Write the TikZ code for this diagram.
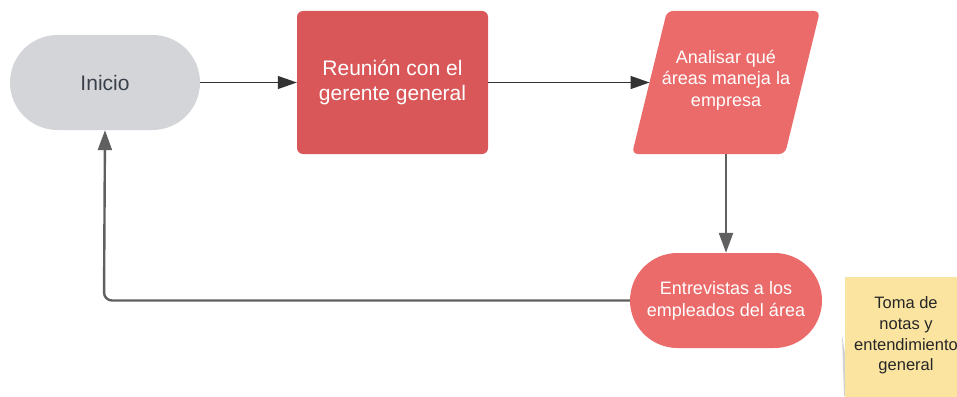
\documentclass[tikz,border=0pt]{standalone}
\usepackage{fontspec}
\setmainfont{Liberation Sans}
\usetikzlibrary{shapes.misc,arrows.meta,shadows}
\definecolor{startgray}{HTML}{D3D5D8}
\definecolor{starttext}{HTML}{3A414B}
\definecolor{darkred}{HTML}{D95759}
\definecolor{lightred}{HTML}{EB6B6B}
\definecolor{sticky}{HTML}{FAE4A0}
\definecolor{thinline}{HTML}{333333}
\definecolor{thickline}{HTML}{606060}
\tikzset{
  stadium/.style={rounded rectangle, minimum width=#1, minimum height=95pt, inner sep=0pt, align=center},
  procbox/.style={rectangle, rounded corners=6pt, fill=darkred, text=white, minimum width=191pt, minimum height=143pt, inner sep=0pt, align=center, font=\fontsize{21}{25}\selectfont},
  thinarrow/.style={draw=thinline, line width=1.2pt, -{Triangle[length=19pt,width=13pt]}},
  thickarrow/.style={draw=thickline, line width=2.4pt, -{Triangle[length=20pt,width=14pt]}, rounded corners=8pt}
}
\begin{document}
\begin{tikzpicture}[x=1pt,y=-1pt]
\useasboundingbox (0,0) rectangle (957,396);
% sticky note
\begin{scope}
\clip (0,0) rectangle (957,396);
\fill[black!30, opacity=0.6] (842,335) -- (844,396) -- (852,396) -- cycle;
\fill[sticky] (845,277) rectangle (970,400);
\end{scope}
\node[align=center, text=black!85, font=\fontsize{16.5}{20.7}\selectfont] (note) at (906,335.5) {Toma de\\notas y\\entendimiento\\general};
% nodes
\node[stadium=190pt, fill=startgray, text=starttext, font=\fontsize{21}{25}\selectfont] (inicio) at (105,82.5) {Inicio};
\node[procbox] (reunion) at (392.5,82.5) {Reunión con el\\gerente general};
\fill[lightred, rounded corners=6pt] (632,154) -- (667,11) -- (820,11) -- (785,154) -- cycle;
\node[align=center, text=white, font=\fontsize{18}{21.5}\selectfont] (analisar) at (726,80) {Analisar qué\\áreas maneja la\\empresa};
\coordinate (analisarW) at (649.6,82.5);
\coordinate (analisarS) at (726,154);
\node[stadium=192pt, fill=lightred, text=white, font=\fontsize{18}{22}\selectfont] (entrevistas) at (726,300.5) {Entrevistas a los\\empleados del área};
% connectors
\draw[thinarrow] (inicio.east) -- (reunion.west);
\draw[thinarrow] (reunion.east) -- (analisarW);
\draw[thickarrow] (analisarS) -- (entrevistas.north);
\draw[thickarrow] (entrevistas.west) -- (104,300.5) -- (inicio.south);
\end{tikzpicture}
\end{document}
